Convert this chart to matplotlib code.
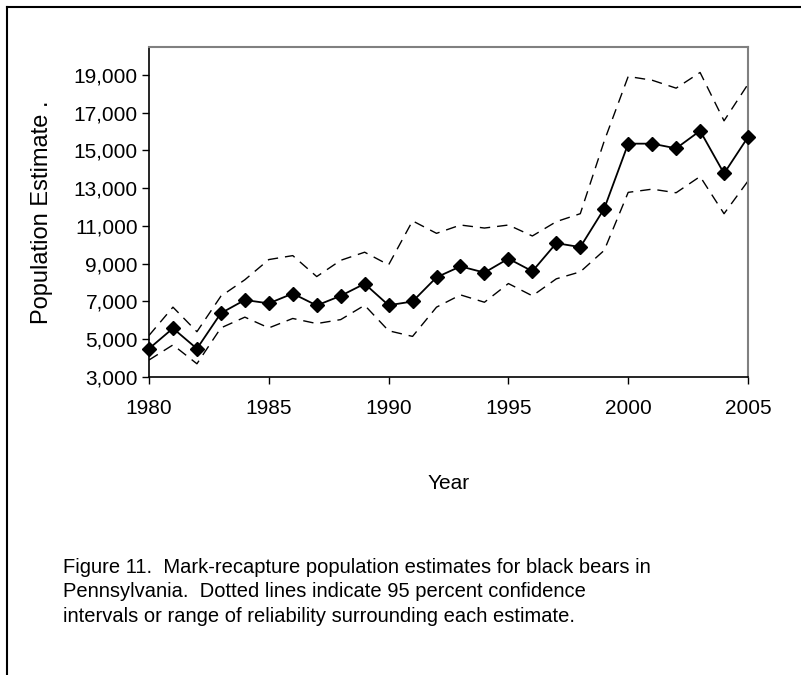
import matplotlib.pyplot as plt
from matplotlib.lines import Line2D

years = list(range(1980, 2006))
estimate = [4500, 5580, 4500, 6380, 7080, 6900, 7420, 6790, 7300, 7940,
            6800, 7000, 8280, 8860, 8530, 9270, 8600, 10090, 9880, 11920,
            15360, 15360, 15110, 16040, 13780, 15710]
upper = [5200, 6700, 5400, 7280, 8150, 9220, 9430, 8320, 9180, 9610,
         8940, 11270, 10610, 11050, 10890, 11050, 10470, 11230, 11650, 15500,
         18920, 18720, 18300, 19130, 16570, 18510]
lower = [3900, 4700, 3700, 5600, 6170, 5600, 6100, 5830, 6040, 6800,
         5450, 5150, 6700, 7350, 6960, 7950, 7300, 8200, 8570, 9710,
         12780, 12950, 12760, 13620, 11650, 13380]
yticks = list(range(3000, 19001, 2000))
xticks = [1980, 1985, 1990, 1995, 2000, 2005]

plt.rcParams['font.family'] = ['Liberation Sans', 'DejaVu Sans']

fig = plt.figure(figsize=(8.01, 6.75), dpi=100)
ax = fig.add_axes([149 / 801, 1 - 377 / 675, 599 / 801, 330 / 675])

ax.plot(years, upper, color='black', lw=1.0, dashes=(7.5, 5))
ax.plot(years, lower, color='black', lw=1.0, dashes=(7.5, 5))
ax.plot(years, estimate, color='black', lw=1.3, marker='D', markersize=7.5,
        clip_on=False, zorder=3)

ax.set_xlim(1980, 2005)
ax.set_ylim(3000, 20480)
ax.set_yticks(yticks)
ax.set_yticklabels(['{:,}'.format(v) for v in yticks])
ax.set_xticks(xticks)
ax.tick_params(labelsize=15, length=5, width=1, direction='out')
ax.tick_params(axis='x', pad=11)
ax.tick_params(axis='y', pad=3)

for s in ['top', 'right']:
    ax.spines[s].set_color('#808080')
    ax.spines[s].set_linewidth(1.5)
for s in ['left', 'bottom']:
    ax.spines[s].set_color('black')
    ax.spines[s].set_linewidth(1.2)

ax.set_ylabel('Population Estimate .', fontsize=17, labelpad=15)
ax.set_xlabel('Year', fontsize=15, labelpad=40)

caption = ("Figure 11.  Mark-recapture population estimates for black bears in\n"
           "Pennsylvania.  Dotted lines indicate 95 percent confidence\n"
           "intervals or range of reliability surrounding each estimate.")
fig.text(63 / 801, 1 - 558 / 675, caption, fontsize=14.5, va='top', ha='left',
         linespacing=1.35)

# outer frame, cut off on the right and bottom
fig.add_artist(Line2D([7 / 801, 1], [1 - 7 / 675, 1 - 7 / 675], color='black', lw=1.5))
fig.add_artist(Line2D([7 / 801, 7 / 801], [0, 1 - 7 / 675], color='black', lw=1.5))

fig.savefig('out.png', dpi=100)
